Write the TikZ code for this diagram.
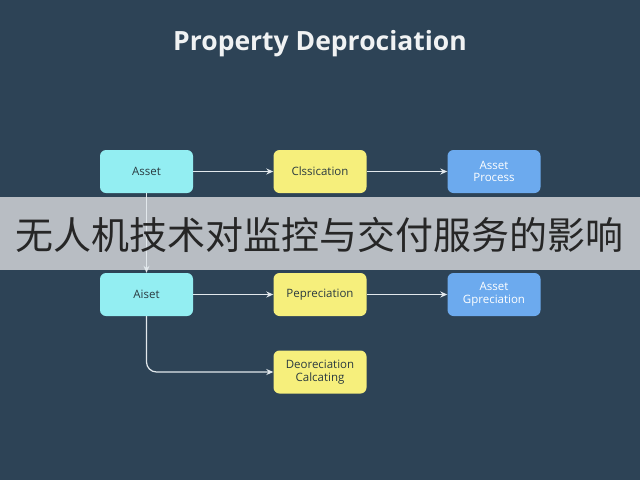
\documentclass[tikz,border=0pt]{standalone}
\usepackage{fontspec}
\setmainfont{Open Sans}
\newfontfamily\cjk{Noto Sans CJK SC}
\usetikzlibrary{arrows.meta}
\definecolor{bgc}{HTML}{2D4356}
\definecolor{cyanb}{HTML}{93EEF2}
\definecolor{yelb}{HTML}{F6EF7C}
\definecolor{blueb}{HTML}{6CAAEE}
\definecolor{linec}{HTML}{E2E8EC}
\definecolor{bannerc}{HTML}{C8CBCF}
\definecolor{txtd}{HTML}{2A3A40}
\tikzset{
  box/.style={rounded corners=6pt, minimum width=93pt, minimum height=43pt, inner sep=2pt, align=center, font=\fontsize{11.5}{12.5}\selectfont, text=txtd},
  cbox/.style={box, fill=cyanb},
  ybox/.style={box, fill=yelb},
  bbox/.style={box, fill=blueb, text=white},
  conn/.style={draw=linec, line width=1.2pt, -{Stealth[length=7pt,width=6pt]}},
}
\begin{document}
\begin{tikzpicture}[x=1pt,y=-1pt]
\fill[bgc] (0,0) rectangle (640,480);
\useasboundingbox (0,0) rectangle (640,480);
\node[text=white!93!bgc, font=\bfseries\fontsize{26.5}{30}\selectfont] (title) at (320,44) {Property Deprociation};
\node[cbox] (a1) at (146.5,171.5) {Asset};
\node[ybox] (c1) at (320,171.5) {Clssication};
\node[bbox] (p1) at (494,171.5) {Asset\\Process};
\node[cbox] (a2) at (146.5,294.5) {Aiset};
\node[ybox] (c2) at (320,294.5) {Pepreciation};
\node[bbox] (p2) at (494,294.5) {Asset\\Gpreciation};
\node[ybox] (d3) at (320,372) {Deoreciation\\Calcating};
\draw[conn] (a1) -- (c1);
\draw[conn] (c1) -- (p1);
\draw[conn] (a2) -- (c2);
\draw[conn] (c2) -- (p2);
\draw[conn, rounded corners=10pt] (a2.south) |- (d3.west);
\fill[bannerc, fill opacity=0.9] (0,197) rectangle (640,270);
\draw[conn] (a1) -- (a2);
\node[font=\cjk\fontsize{38}{40}\selectfont, text=black!85] (ban) at (320,235) {无人机技术对监控与交付服务的影响};
\end{tikzpicture}
\end{document}
